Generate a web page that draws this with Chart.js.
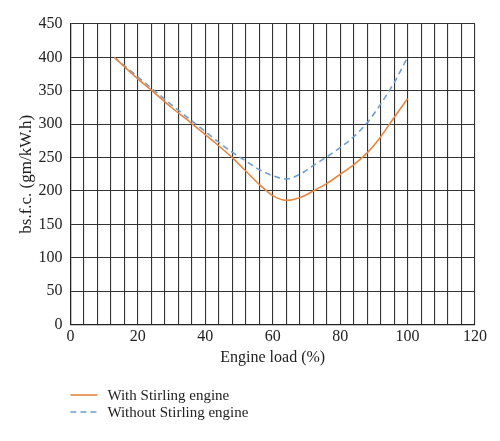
<!DOCTYPE html>
<html>
<head>
<meta charset="utf-8">
<script src="https://cdn.jsdelivr.net/npm/chart.js@4/dist/chart.umd.min.js"></script>
<style>
  html, body { margin: 0; padding: 0; background: #ffffff; }
  #wrap { width: 500px; height: 441px; position: relative; }
</style>
</head>
<body>
<div id="wrap"><canvas id="c" width="500" height="441"></canvas></div>
<script>
const engineLoad = [13, 20, 24, 30, 36, 42, 48, 52, 56, 60, 64, 68, 72, 76, 80, 84, 88, 92, 96, 100];
const withStirling = [400, 368, 351, 325, 301, 276, 250, 230, 210, 193, 186, 190, 200, 211, 225, 239, 257, 281, 310, 338];
const withoutStirling = [400, 371, 354, 329, 305, 281, 258, 245, 232, 223, 218, 225, 238, 251, 265, 281, 302, 330, 362, 400];
const seriesLabels = ['With Stirling engine', 'Without Stirling engine'];
const xTitle = 'Engine load (%)';
const yTitle = 'bs.f.c. (gm/kW.h)';

const FONT = "'Liberation Serif', 'Times New Roman', serif";
const orange = '#E8853F';
const blue = '#6E9FD2';

const legendPlugin = {
  id: 'customLegend',
  afterDraw(chart) {
    const ctx = chart.ctx;
    const x0 = chart.chartArea.left;
    const rows = [395, 412];
    ctx.save();
    chart.data.datasets.forEach((ds, i) => {
      const y = rows[i];
      ctx.beginPath();
      ctx.strokeStyle = ds.borderColor;
      ctx.lineWidth = ds.borderWidth;
      ctx.setLineDash(ds.borderDash || []);
      ctx.moveTo(x0, y);
      ctx.lineTo(x0 + 27, y);
      ctx.stroke();
      ctx.setLineDash([]);
      ctx.fillStyle = '#222';
      ctx.font = '15px ' + FONT;
      ctx.textBaseline = 'middle';
      ctx.textAlign = 'left';
      ctx.fillText(ds.label, x0 + 37, y + 1);
    });
    ctx.restore();
  }
};

new Chart(document.getElementById('c'), {
  type: 'line',
  data: {
    datasets: [
      {
        label: seriesLabels[0],
        data: engineLoad.map((x, i) => ({ x: x, y: withStirling[i] })),
        borderColor: orange,
        borderWidth: 1.6,
        pointRadius: 0,
        cubicInterpolationMode: 'monotone',
        fill: false
      },
      {
        label: seriesLabels[1],
        data: engineLoad.map((x, i) => ({ x: x, y: withoutStirling[i] })),
        borderColor: blue,
        borderWidth: 1.6,
        borderDash: [6, 4],
        pointRadius: 0,
        cubicInterpolationMode: 'monotone',
        fill: false
      }
    ]
  },
  options: {
    responsive: false,
    animation: false,
    devicePixelRatio: 1,
    layout: { padding: { left: 16, right: 25, top: 24, bottom: 74 } },
    plugins: {
      legend: { display: false },
      tooltip: { enabled: false }
    },
    scales: {
      x: {
        type: 'linear',
        min: 0,
        max: 120,
        border: { color: '#222', width: 1.2 },
        grid: { color: '#333', lineWidth: 1.1, drawTicks: false },
        ticks: {
          stepSize: 4,
          autoSkip: false,
          maxRotation: 0,
          padding: 3,
          color: '#222',
          font: { family: FONT, size: 16 },
          callback: (v) => (v % 20 === 0 ? String(v) : '')
        },
        title: {
          display: true,
          text: xTitle,
          color: '#222',
          font: { family: FONT, size: 16 },
          padding: { top: -2, bottom: 0 }
        }
      },
      y: {
        min: 0,
        max: 450,
        border: { color: '#222', width: 1.2 },
        grid: { color: '#333', lineWidth: 1.1, drawTicks: false },
        ticks: {
          stepSize: 50,
          padding: 8,
          color: '#222',
          font: { family: FONT, size: 16 }
        },
        title: {
          display: true,
          text: yTitle,
          color: '#222',
          font: { family: FONT, size: 17 },
          padding: { top: 0, bottom: -6 }
        }
      }
    }
  },
  plugins: [legendPlugin]
});
</script>
</body>
</html>
